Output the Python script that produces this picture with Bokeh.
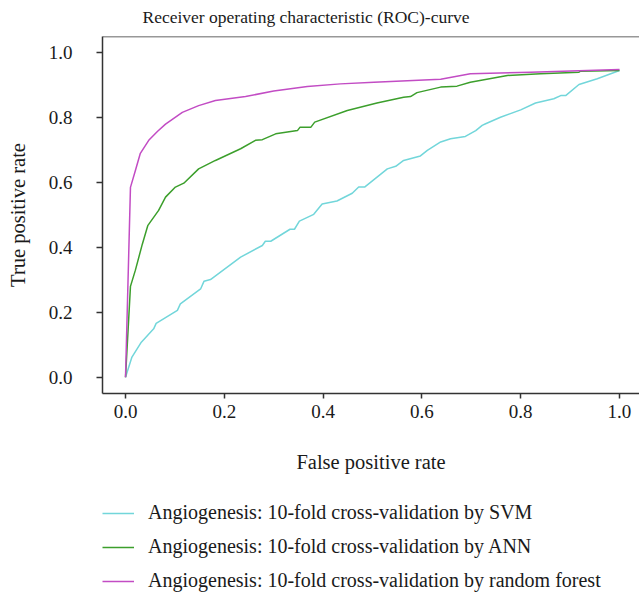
from bokeh.plotting import figure
from bokeh.layouts import column
from bokeh.models import Range1d, Legend, LegendItem, Span, NumeralTickFormatter, Label
from bokeh.embed import file_html
from bokeh.resources import INLINE

# ---- data ----
svm_fpr = [0.0, 0.013, 0.032, 0.057, 0.062, 0.105, 0.111, 0.152, 0.159, 0.172, 0.233, 0.277, 0.283, 0.294,
           0.333, 0.342, 0.352, 0.381, 0.398, 0.428, 0.459, 0.472, 0.484, 0.53, 0.547, 0.563, 0.597, 0.611,
           0.638, 0.658, 0.688, 0.709, 0.722, 0.729, 0.759, 0.8, 0.83, 0.867, 0.881, 0.891, 0.918, 0.955, 1.0]
svm_tpr = [0.0, 0.062, 0.108, 0.149, 0.166, 0.206, 0.226, 0.272, 0.296, 0.301, 0.37, 0.406, 0.419, 0.419,
           0.456, 0.456, 0.481, 0.502, 0.534, 0.543, 0.567, 0.586, 0.586, 0.642, 0.65, 0.668, 0.682, 0.699,
           0.725, 0.735, 0.742, 0.76, 0.776, 0.781, 0.801, 0.824, 0.845, 0.858, 0.868, 0.868, 0.902, 0.92, 0.945]

ann_fpr = [0.0, 0.01, 0.02, 0.034, 0.045, 0.067, 0.081, 0.101, 0.118, 0.148, 0.182, 0.233, 0.263, 0.277,
           0.304, 0.348, 0.353, 0.375, 0.383, 0.449, 0.509, 0.563, 0.577, 0.59, 0.638, 0.671, 0.698, 0.773,
           0.84, 0.918, 0.921, 1.0]
ann_tpr = [0.0, 0.28, 0.33, 0.41, 0.467, 0.514, 0.555, 0.586, 0.598, 0.642, 0.668, 0.704, 0.73, 0.732,
           0.75, 0.76, 0.77, 0.77, 0.786, 0.822, 0.845, 0.863, 0.865, 0.877, 0.894, 0.897, 0.909, 0.93,
           0.935, 0.94, 0.943, 0.945]

rf_fpr = [0.0, 0.01, 0.02, 0.03, 0.047, 0.065, 0.081, 0.115, 0.148, 0.182, 0.243, 0.30, 0.368, 0.435,
          0.503, 0.638, 0.698, 0.82, 1.0]
rf_tpr = [0.0, 0.585, 0.637, 0.69, 0.73, 0.758, 0.78, 0.816, 0.837, 0.853, 0.865, 0.882, 0.896, 0.904,
          0.909, 0.918, 0.935, 0.94, 0.948]

title_text = "Receiver operating characteristic (ROC)-curve"
series_labels = ["Angiogenesis: 10-fold cross-validation by SVM",
                 "Angiogenesis: 10-fold cross-validation by ANN",
                 "Angiogenesis: 10-fold cross-validation by random forest"]
colors = ["#72d6da", "#3c9f2c", "#c24cc4"]
x_ticks = [0.0, 0.2, 0.4, 0.6, 0.8, 1.0]
y_ticks = [0.0, 0.2, 0.4, 0.6, 0.8, 1.0]

series = [(svm_fpr, svm_tpr), (ann_fpr, ann_tpr), (rf_fpr, rf_tpr)]

FONT = "Liberation Serif"
AX = "#333333"
TXT = "#1a1a1a"

# ---- header strip with the title ----
hf = figure(width=639, height=36, output_backend="svg", toolbar_location=None,
            x_axis_type=None, y_axis_type=None, x_range=Range1d(0, 1), y_range=Range1d(0, 1),
            min_border_left=0, min_border_right=0, min_border_top=0, min_border_bottom=0)
hf.outline_line_color = None
hf.grid.visible = False
hf.add_layout(Label(x=40, y=20, x_units="screen", y_units="screen", text=title_text,
                    text_font=FONT, text_font_size="17.5px", text_color=TXT,
                    text_align="left", text_baseline="alphabetic"))

# ---- main plot ----
p = figure(width=639, height=454, output_backend="svg", toolbar_location=None,
           x_range=Range1d(-0.0466, 1.0405), y_range=Range1d(-0.0502, 1.050),
           min_border_left=102, min_border_right=0, min_border_top=0, min_border_bottom=97)
p.outline_line_color = None
p.grid.visible = False
p.background_fill_color = "white"
p.border_fill_color = "white"

for ax in (p.xaxis[0], p.yaxis[0]):
    ax.axis_line_color = AX
    ax.axis_line_width = 1.5
    ax.major_tick_line_color = AX
    ax.major_tick_line_width = 1.5
    ax.major_tick_in = 0
    ax.minor_tick_line_color = None
    ax.major_label_text_font = FONT
    ax.major_label_text_font_size = "19px"
    ax.major_label_text_color = TXT
    ax.axis_label_text_font = FONT
    ax.axis_label_text_font_size = "20.5px"
    ax.axis_label_text_font_style = "normal"
    ax.axis_label_text_color = TXT
    ax.formatter = NumeralTickFormatter(format="0.0")

p.xaxis[0].ticker = x_ticks
p.yaxis[0].ticker = y_ticks
p.xaxis[0].major_tick_out = 5
p.yaxis[0].major_tick_out = 6
p.xaxis[0].major_label_standoff = 6
p.yaxis[0].major_label_standoff = 24
p.xaxis[0].axis_label = "False positive rate"
p.yaxis[0].axis_label = "True positive rate"
p.xaxis[0].axis_label_standoff = 30
p.yaxis[0].axis_label_standoff = 17

# top spine
p.add_layout(Span(location=p.y_range.end, dimension="width", line_color=AX, line_width=1.5))

for (xs, ys), c in zip(series, colors):
    p.line(xs, ys, line_color=c, line_width=1.5)

# ---- legend strip below the plot (its lines lie outside its visible range; only the legend shows) ----
lf = figure(width=639, height=105, output_backend="svg", toolbar_location=None,
            x_axis_type=None, y_axis_type=None, x_range=Range1d(0, 1), y_range=Range1d(2, 3),
            min_border_left=102, min_border_right=0, min_border_top=11, min_border_bottom=0)
lf.outline_line_color = None
lf.grid.visible = False
lr = [lf.line(xs, ys, line_color=c, line_width=1.5) for (xs, ys), c in zip(series, colors)]
legend = Legend(items=[LegendItem(label=lab, renderers=[r]) for lab, r in zip(series_labels, lr)],
                location="top_left", orientation="vertical",
                margin=0, padding=0, border_line_color=None, background_fill_alpha=0,
                glyph_width=32, glyph_height=20, label_height=20, label_standoff=14, spacing=11,
                label_text_font=FONT, label_text_font_size="20px", label_text_color=TXT)
lf.add_layout(legend, "center")

layout = column(hf, p, lf, spacing=0)
open("out.html", "w").write(file_html(layout, INLINE))
